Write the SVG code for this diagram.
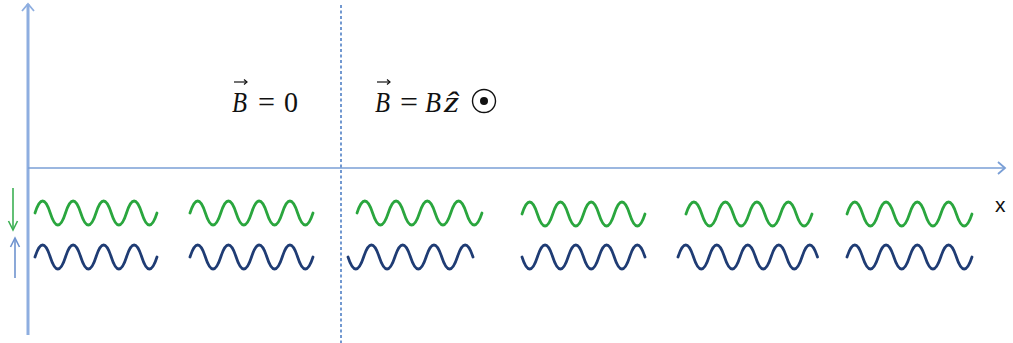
<svg xmlns="http://www.w3.org/2000/svg" width="1013" height="343" viewBox="0 0 1013 343">
<style>
.wg{fill:none;stroke:#2aa63e;stroke-width:2.8;stroke-linecap:round}
.wb{fill:none;stroke:#1f3c74;stroke-width:2.8;stroke-linecap:round}
.mt{font-family:"Liberation Serif","DejaVu Serif",serif;font-style:italic;font-size:30px;fill:#111}
.mu{font-family:"Liberation Serif","DejaVu Serif",serif;font-size:30px;fill:#111}
</style>
<defs>
<marker id="chev" viewBox="-10 -7 12 14" markerWidth="12" markerHeight="14" refX="0" refY="0" orient="auto" markerUnits="userSpaceOnUse">
<polyline points="-7,-6 0,0 -7,6" fill="none" stroke="context-stroke" stroke-width="1.8"/>
</marker>
<marker id="chevs" viewBox="-10 -6 12 12" markerWidth="12" markerHeight="12" refX="0" refY="0" orient="auto" markerUnits="userSpaceOnUse">
<polyline points="-9,-4.5 0,0 -9,4.5" fill="none" stroke="context-stroke" stroke-width="1.6"/>
</marker>
<marker id="vec" viewBox="-5 -4 6 8" markerWidth="6" markerHeight="8" refX="0" refY="0" orient="auto" markerUnits="userSpaceOnUse">
<polyline points="-3,-2.5 0,0 -3,2.5" fill="none" stroke="#111" stroke-width="1.2"/>
</marker>
</defs>
<rect width="1013" height="343" fill="#ffffff"/>
<g id="connectors">
<line id="y-axis" x1="28" y1="335" x2="28" y2="4" stroke="#8eaee0" stroke-width="3" marker-end="url(#chev)"/>
<line id="x-axis" x1="28" y1="168" x2="1005" y2="168" stroke="#7a9fd6" stroke-width="1.5" marker-end="url(#chev)"/>
<line id="boundary" x1="341" y1="5" x2="341" y2="343" stroke="#4f7fc5" stroke-width="1.6" stroke-dasharray="3,2.5"/>
<line id="spin-down" x1="13" y1="188" x2="13" y2="230" stroke="#3cb053" stroke-width="1.6" marker-end="url(#chevs)"/>
<line id="spin-up" x1="15" y1="278" x2="15" y2="238" stroke="#6f93cf" stroke-width="1.6" marker-end="url(#chevs)"/>
</g>
<g id="label-b0">
<text class="mt" x="232" y="112" textLength="15" lengthAdjust="spacingAndGlyphs">B</text>
<line x1="234" y1="82" x2="247" y2="82" stroke="#111" stroke-width="1.2" marker-end="url(#vec)"/>
<text class="mu" x="258" y="112" textLength="17" lengthAdjust="spacingAndGlyphs">=</text>
<text class="mu" x="284" y="112" textLength="14" lengthAdjust="spacingAndGlyphs">0</text>
</g>
<g id="label-bz">
<text class="mt" x="375" y="112" textLength="15" lengthAdjust="spacingAndGlyphs">B</text>
<line x1="377" y1="82" x2="390" y2="82" stroke="#111" stroke-width="1.2" marker-end="url(#vec)"/>
<text class="mu" x="400" y="112" textLength="18" lengthAdjust="spacingAndGlyphs">=</text>
<text class="mt" x="425" y="112" textLength="16" lengthAdjust="spacingAndGlyphs">B</text>
<text class="mt" x="444" y="112" textLength="15" lengthAdjust="spacingAndGlyphs">ẑ</text>
<circle cx="484" cy="101" r="11.5" fill="none" stroke="#111" stroke-width="1.4"/>
<circle cx="484" cy="101" r="4" fill="#111"/>
</g>
<g id="label-x">
<text x="995" y="212" font-family="Liberation Sans, Arial, sans-serif" font-size="21" fill="#111">x</text>
</g>
<g id="wave-g1"><path class="wg" d="M35,213 q7.625,-24 15.25,0 t15.25,0 t15.25,0 t15.25,0 t15.25,0 t15.25,0 t15.25,0 t15.25,0"/></g>
<g id="wave-g2"><path class="wg" d="M190,213 q7.6875,-24 15.375,0 t15.375,0 t15.375,0 t15.375,0 t15.375,0 t15.375,0 t15.375,0 t15.375,0"/></g>
<g id="wave-g3"><path class="wg" d="M357,213 q7.8125,-24 15.625,0 t15.625,0 t15.625,0 t15.625,0 t15.625,0 t15.625,0 t15.625,0 t15.625,0"/></g>
<g id="wave-g4"><path class="wg" d="M522,214 q7.6875,-24 15.375,0 t15.375,0 t15.375,0 t15.375,0 t15.375,0 t15.375,0 t15.375,0 t15.375,0"/></g>
<g id="wave-g5"><path class="wg" d="M686,214 q7.875,-24 15.75,0 t15.75,0 t15.75,0 t15.75,0 t15.75,0 t15.75,0 t15.75,0 t15.75,0"/></g>
<g id="wave-g6"><path class="wg" d="M847,214 q7.8125,-24 15.625,0 t15.625,0 t15.625,0 t15.625,0 t15.625,0 t15.625,0 t15.625,0 t15.625,0"/></g>
<g id="wave-b1"><path class="wb" d="M35,257 q7.625,-24 15.25,0 t15.25,0 t15.25,0 t15.25,0 t15.25,0 t15.25,0 t15.25,0 t15.25,0"/></g>
<g id="wave-b2"><path class="wb" d="M190,257 q7.6875,-24 15.375,0 t15.375,0 t15.375,0 t15.375,0 t15.375,0 t15.375,0 t15.375,0 t15.375,0"/></g>
<g id="wave-b3"><path class="wb" d="M348,257 q7.8125,24 15.625,0 t15.625,0 t15.625,0 t15.625,0 t15.625,0 t15.625,0 t15.625,0 t15.625,0"/></g>
<g id="wave-b4"><path class="wb" d="M522,257 q7.6875,24 15.375,0 t15.375,0 t15.375,0 t15.375,0 t15.375,0 t15.375,0 t15.375,0 t15.375,0"/></g>
<g id="wave-b5"><path class="wb" d="M678,257 q7.75,-24 15.5,0 t15.5,0 t15.5,0 t15.5,0 t15.5,0 t15.5,0 t15.5,0 t15.5,0 t15.5,0"/></g>
<g id="wave-b6"><path class="wb" d="M847,257 q7.8125,-24 15.625,0 t15.625,0 t15.625,0 t15.625,0 t15.625,0 t15.625,0 t15.625,0 t15.625,0"/></g>
</svg>
